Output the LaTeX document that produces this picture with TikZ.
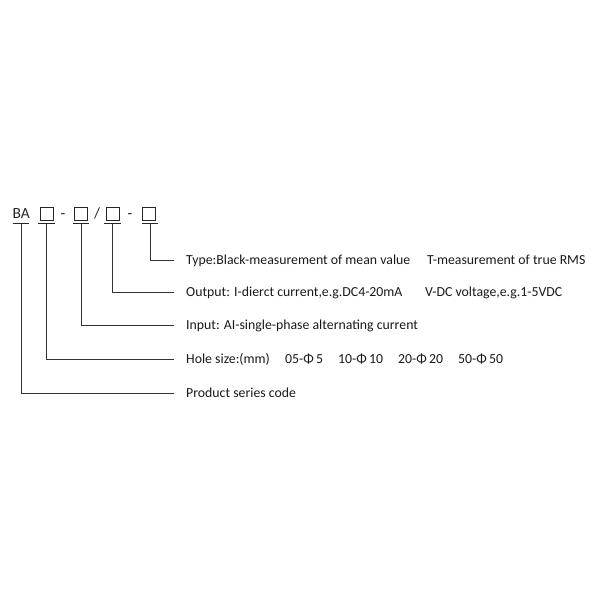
\documentclass[tikz,border=0pt]{standalone}
\usepackage{fontspec}
\setmainfont{Carlito}
\begin{document}
\begin{tikzpicture}[x=1pt,y=-1pt,
  codebox/.style={draw=black!85, line width=0.8pt, minimum size=13pt, inner sep=0pt},
  codetxt/.style={font=\fontsize{15.5}{17}\selectfont, inner sep=0pt, text=black!85, anchor=base},
  lbl/.style={anchor=base west, font=\fontsize{13.8}{16}\selectfont, inner sep=0pt, text=black!90},
  uline/.style={line width=1pt, draw=black!85},
  conn/.style={line width=0.9pt, draw=black!80, shorten >=12pt}]
\useasboundingbox (0,0) rectangle (600,600);
% top code
\node[codetxt, anchor=base west] (ba) at (12.5,218.5) {BA};
\node[codebox] (b1) at (46.5,213.5) {};
\node[codetxt] (d1) at (63,218.5) {-};
\node[codebox] (b2) at (80.5,213.5) {};
\node[codetxt] (sl) at (97,218.5) {/};
\node[codebox] (b3) at (112.5,213.5) {};
\node[codetxt] (d2) at (130,218.5) {-};
\node[codebox] (b4) at (149,213.5) {};
% underlines
\coordinate (u0) at (21,223.5);
\coordinate (u1) at (46.5,223.5);
\coordinate (u2) at (81,223.5);
\coordinate (u3) at (112.5,223.5);
\coordinate (u4) at (150,223.5);
\draw[uline] (13,223.5) -- (29,223.5);
\draw[uline] (38,223.5) -- (55,223.5);
\draw[uline] (73,223.5) -- (89,223.5);
\draw[uline] (104,223.5) -- (121,223.5);
\draw[uline] (142,223.5) -- (158,223.5);
% labels
\node[lbl] (t4) at (186,264.5) {Type:Black-measurement of mean value};
\node[lbl] (t4b) at (427,264.5) {T-measurement of true RMS};
\node[lbl] (t3) at (186,296.5) {Output: I-dierct current,e.g.DC4-20mA};
\node[lbl] (t3b) at (425,296.5) {V-DC voltage,e.g.1-5VDC};
\node[lbl] (t2) at (186,329.5) {Input: AI-single-phase alternating current};
\node[lbl] (t1) at (186,363.5) {Hole size:(mm)};
\node[lbl] (t1a) at (285,363.5) {05-Φ\,5};
\node[lbl] (t1b) at (338,363.5) {10-Φ\,10};
\node[lbl] (t1c) at (398,363.5) {20-Φ\,20};
\node[lbl] (t1d) at (458,363.5) {50-Φ\,50};
\node[lbl] (t0) at (186,397.5) {Product series code};
% connectors
\coordinate (e4) at (186,260);
\coordinate (e3) at (186,292);
\coordinate (e2) at (186,325);
\coordinate (e1) at (186,359);
\coordinate (e0) at (186,393);
\draw[conn] (u4) |- (e4);
\draw[conn] (u3) |- (e3);
\draw[conn] (u2) |- (e2);
\draw[conn] (u1) |- (e1);
\draw[conn] (u0) |- (e0);
\end{tikzpicture}
\end{document}
